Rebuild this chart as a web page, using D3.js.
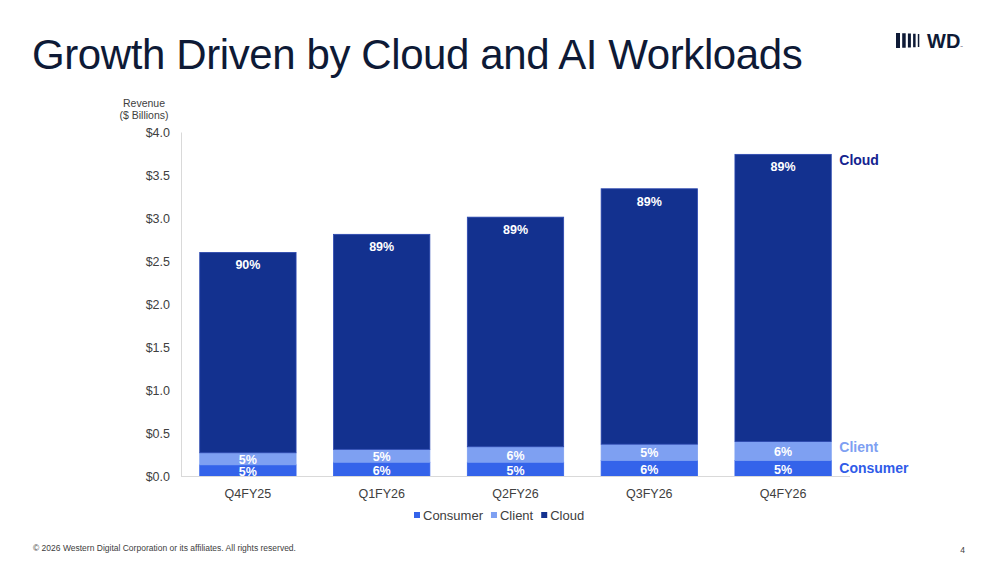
<html lang="en">
<head>
<meta charset="utf-8"/>
<style>
    body { margin: 0; background: #fff; }
    svg text { font-family: "Liberation Sans", Arial, sans-serif; }
</style>
</head>
<body>
<svg id="chart" width="1000" height="562"></svg>

<script src="https://d3js.org/d3.v7.min.js"></script>
<script>

    // revenue in $ billions
    var quarters = ["Q4FY25", "Q1FY26", "Q2FY26", "Q3FY26", "Q4FY26"];
    var consumer = [0.13, 0.16, 0.16, 0.18, 0.18];
    var client   = [0.14, 0.15, 0.18, 0.19, 0.22];
    var cloud    = [2.33, 2.50, 2.67, 2.97, 3.34];
    var consumerPct = ["5%", "6%", "5%", "6%", "5%"];
    var clientPct   = ["5%", "5%", "6%", "5%", "6%"];
    var cloudPct    = ["90%", "89%", "89%", "89%", "89%"];
    var yTicks = [0, 0.5, 1, 1.5, 2, 2.5, 3, 3.5, 4];
    var seriesNames = ["Consumer", "Client", "Cloud"];
    var colors = {Consumer: "#3463ea", Client: "#7ea0f2", Cloud: "#13318f"};

    var svg = d3.select("#chart");

    var x = d3.scaleBand().domain(quarters).range([181, 850]).paddingInner(0.28).paddingOuter(0.14);
    var y = d3.scaleLinear().domain([0, 4]).range([476, 132]);

    // title + logo
    svg.append("text")
        .attr("x", 32).attr("y", 69)
        .attr("font-size", 42)
        .attr("fill", "#0e1a36")
        .attr("letter-spacing", -0.4)
        .text("Growth Driven by Cloud and AI Workloads");

    var logo = svg.append("g").attr("transform", "translate(896,33)");
    var barW = [4, 3.5, 3, 2.5, 1.5];
    var bx = 0;
    barW.forEach(function(w, i) {
        var h = 15 - i * 0.5;
        logo.append("rect").attr("x", bx).attr("y", (15 - h) / 2)
            .attr("width", w).attr("height", h)
            .attr("fill", "#0e1a36");
        bx += w + 2.2;
    });
    logo.append("text").attr("x", 31).attr("y", 15)
        .attr("font-size", 20).attr("font-weight", "bold")
        .attr("fill", "#0e1a36").text("WD");
    logo.append("text").attr("x", 64).attr("y", 15)
        .attr("font-size", 3).attr("fill", "#0e1a36").text("™");

    // axis title
    svg.append("text").attr("x", 144).attr("y", 107)
        .attr("text-anchor", "middle").attr("font-size", 10.5).attr("fill", "#404040")
        .text("Revenue");
    svg.append("text").attr("x", 144).attr("y", 119)
        .attr("text-anchor", "middle").attr("font-size", 10.5).attr("fill", "#404040")
        .text("($ Billions)");

    // y axis
    var yAxis = d3.axisLeft(y).tickValues(yTicks)
        .tickFormat(function(d) { return "$" + d.toFixed(1); })
        .tickSize(0).tickPadding(11);
    var gy = svg.append("g").attr("transform", "translate(181,0)").call(yAxis);
    gy.select(".domain").attr("stroke", "#d9d9d9");
    gy.selectAll("text").attr("font-size", 12.5).attr("fill", "#404040")
        .attr("font-family", "Liberation Sans, Arial, sans-serif");

    // stacked bars
    var rows = quarters.map(function(q, i) {
        return {q: q, Consumer: consumer[i], Client: client[i], Cloud: cloud[i], i: i};
    });
    var stack = d3.stack().keys(seriesNames)(rows);
    var pctLabels = {Consumer: consumerPct, Client: clientPct, Cloud: cloudPct};

    stack.forEach(function(layer) {
        var key = layer.key;
        var g = svg.append("g");
        g.selectAll("rect")
            .data(layer).enter()
            .append("rect")
            .attr("x", function(d) { return x(d.data.q); })
            .attr("y", function(d) { return y(d[1]); })
            .attr("width", x.bandwidth())
            .attr("height", function(d) { return y(d[0]) - y(d[1]); })
            .attr("fill", colors[key])
            .attr("stroke", key == "Cloud" ? "#2c48b0" : colors[key])
            .attr("stroke-width", 0.8);

        g.selectAll("text")
            .data(layer).enter()
            .append("text")
            .attr("x", function(d) { return x(d.data.q) + x.bandwidth() / 2; })
            .attr("y", function(d) {
                if (key == "Cloud") return y(d[1]) + 17;
                var mid = (y(d[0]) + y(d[1])) / 2 + 5;
                return key == "Consumer" ? mid + 1 : mid;
            })
            .attr("text-anchor", "middle")
            .attr("font-size", 12.5).attr("font-weight", "bold")
            .attr("fill", "#fff")
            .text(function(d) { return pctLabels[key][d.data.i]; });
    });

    // baseline
    svg.append("line").attr("x1", 181).attr("x2", 850)
        .attr("y1", y(0) + 0.5).attr("y2", y(0) + 0.5)
        .attr("stroke", "#d9d9d9").attr("stroke-width", 1.2);

    // x axis labels
    var xAxis = d3.axisBottom(x).tickSize(0).tickPadding(13);
    var gx = svg.append("g").attr("transform", "translate(0," + y(0) + ")").call(xAxis);
    gx.select(".domain").remove();
    gx.selectAll("text").attr("font-size", 12.5).attr("fill", "#404040")
        .attr("font-family", "Liberation Sans, Arial, sans-serif");

    // series names on the right, next to the last bar
    var last = stack.map(function(layer) { return layer[layer.length - 1]; });
    var sideX = x(quarters[quarters.length - 1]) + x.bandwidth() + 8;
    var sideColors = {Consumer: "#2f5be8", Client: "#7ea0f2", Cloud: "#13238f"};
    svg.append("text").attr("x", sideX).attr("y", 473)
        .attr("font-size", 14).attr("font-weight", "bold").attr("fill", sideColors.Consumer)
        .text("Consumer");
    svg.append("text").attr("x", sideX).attr("y", 452)
        .attr("font-size", 14).attr("font-weight", "bold").attr("fill", sideColors.Client)
        .text("Client");
    svg.append("text").attr("x", sideX).attr("y", y(last[2][1]) + 11)
        .attr("font-size", 14).attr("font-weight", "bold").attr("fill", sideColors.Cloud)
        .text("Cloud");

    // legend
    var legend = svg.append("g").attr("transform", "translate(414,520)");
    var lx = 0;
    seriesNames.forEach(function(name) {
        legend.append("rect").attr("x", lx).attr("y", -8).attr("width", 6).attr("height", 6)
            .attr("fill", colors[name]);
        var t = legend.append("text").attr("x", lx + 9).attr("y", 0)
            .attr("font-size", 13).attr("fill", "#404040").text(name);
        lx += 9 + t.node().getComputedTextLength() + 8;
    });

    // footer
    svg.append("text").attr("x", 33).attr("y", 551)
        .attr("font-size", 8.5).attr("fill", "#404040")
        .text("\u00a9  2026 Western Digital Corporation or its affiliates.  All rights reserved.");
    svg.append("text").attr("x", 965).attr("y", 553)
        .attr("text-anchor", "end").attr("font-size", 8.5).attr("fill", "#404040")
        .text("4");

</script>
</body>
</html>
